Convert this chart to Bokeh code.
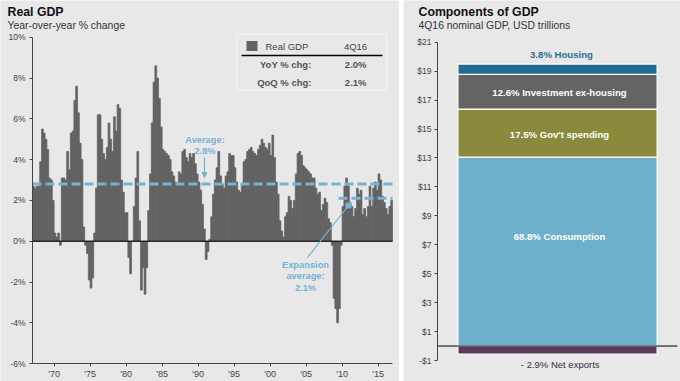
from bokeh.plotting import figure
from bokeh.models import Range1d, FixedTicker, Label, Arrow, NormalHead, BoxAnnotation
from bokeh.layouts import row
from bokeh.embed import file_html
from bokeh.resources import INLINE

# ---------------- data ----------------
START_YEAR = 1967
gdp_yoy = [
    2.7, 2.6, 2.7, 2.7, 3.9, 5.5, 5.3, 5.0,      # 1967-68
    4.5, 3.1, 3.0, 2.0, 0.4, 0.2, 0.4, -0.2,     # 1969-70
    3.1, 3.1, 3.0, 4.4, 3.5, 5.3, 5.4, 6.9,      # 1971-72
    7.6, 6.3, 4.8, 4.0, 0.7, -0.2, -0.6, -1.9,   # 1973-74
    -2.3, -1.8, 0.4, 2.6, 6.2, 6.2, 5.0, 4.3,    # 1975-76
    4.0, 4.6, 5.8, 5.0, 4.4, 6.1, 5.4, 6.7,      # 1977-78
    6.5, 3.0, 2.4, 1.4, 1.4, -0.8, -1.6, 0.0,    # 1979-80
    1.7, 3.1, 4.4, 1.0, -2.4, -1.3, -2.6, -1.3,  # 1981-82
    1.5, 3.3, 5.8, 7.8, 8.6, 8.0, 7.0, 5.6,      # 1983-84
    4.5, 4.4, 4.3, 4.2, 4.0, 3.4, 3.2, 2.9,      # 1985-86
    2.8, 3.4, 3.3, 4.4, 4.5, 4.1, 3.9, 4.3,      # 1987-88
    4.1, 4.3, 3.8, 3.3, 2.9, 2.5, 1.8, 0.6,      # 1989-90
    -0.9, -0.5, 0.1, 1.2, 2.3, 3.0, 3.6, 4.4,    # 1991-92
    3.2, 2.8, 2.6, 3.2, 3.4, 4.3, 4.2, 4.2,      # 1993-94
    3.6, 2.9, 2.5, 2.4, 2.8, 3.9, 4.0, 4.4,      # 1995-96
    4.5, 4.6, 4.4, 4.3, 4.2, 4.5, 4.7, 5.0,      # 1997-98
    4.8, 4.6, 4.5, 4.8, 4.2, 5.2, 4.1, 2.9,      # 1999-00
    2.3, 1.0, 0.5, 0.2, 1.2, 1.4, 2.2, 2.0,      # 2001-02
    1.6, 2.0, 3.3, 4.3, 4.4, 4.2, 3.7, 3.6,      # 2003-04
    3.5, 3.4, 3.3, 3.1, 3.1, 2.6, 2.3, 2.4,      # 2005-06
    1.5, 1.8, 2.1, 1.9, 1.1, 0.9, -0.2, -2.8,    # 2007-08
    -3.3, -4.0, -3.3, -0.2, 1.7, 2.7, 3.1, 2.7,  # 2009-10
    1.9, 1.7, 1.2, 1.6, 2.6, 2.3, 2.5, 1.3,      # 2011-12
    1.6, 1.2, 1.7, 2.7, 1.7, 2.6, 2.9, 2.5,      # 2013-14
    3.3, 3.0, 2.2, 1.9, 1.6, 1.3, 1.7, 2.0,      # 2015-16
]
AVG_ALL = 2.8
EXP_AVG = 2.1
EXP_START = 2009.5
latest_q = "4Q16"
latest_yoy = 2.0
latest_qoq = 2.1
year_ticks = [1970, 1975, 1980, 1985, 1990, 1995, 2000, 2005, 2010, 2015]
year_labels = ["'70", "'75", "'80", "'85", "'90", "'95", "'00", "'05", "'10", "'15"]
pct_ticks = [-6, -4, -2, 0, 2, 4, 6, 8, 10]

comp_names = ["Consumption", "Gov't spending", "Investment ex-housing", "Housing", "Net exports"]
comp_pct = [68.8, 17.5, 12.6, 3.8, -2.9]
comp_usd = [13.05, 3.33, 2.39, 0.72, -0.55]
comp_colors = ["#6eb0cc", "#898a3c", "#646464", "#236b92", "#5b3a58"]
usd_ticks = [-1, 1, 3, 5, 7, 9, 11, 13, 15, 17, 19, 21]
usd_labels = ["-$1", "$1", "$3", "$5", "$7", "$9", "$11", "$13", "$15", "$17", "$19", "$21"]

# ---------------- style ----------------
BG = "#e8e8e8"
BAR = "#626262"
AVGC = "#74b3d3"
FONT = "Liberation Sans"
AXC = "#444444"

n_q = len(gdp_yoy)
quarters = [START_YEAR + (i + 0.5) / 4 for i in range(n_q)]
x_end = START_YEAR + n_q / 4
y_lo, y_hi = pct_ticks[0], pct_ticks[-1]


def style_axis(ax, size="8.5px"):
    ax.axis_line_color = AXC
    ax.major_tick_line_color = AXC
    ax.minor_tick_line_color = None
    ax.major_tick_out = 3
    ax.major_tick_in = 0
    ax.major_label_text_font = FONT
    ax.major_label_text_font_size = size
    ax.major_label_text_color = AXC


def ranges(W, H, left, right, top, bottom, x0, x1, y0, y1):
    """extend data ranges so that the plot area [left..right]x[top..bottom] (px) maps to x0..x1, y0..y1"""
    kx = (x1 - x0) / (right - left)
    ky = (y1 - y0) / (bottom - top)
    return (Range1d(x0 - left * kx, x1 + (W - right) * kx),
            Range1d(y0 - (H - bottom) * ky, y1 + top * ky))


# ---------------- left panel ----------------
W1, H1 = 399, 381
xr1, yr1 = ranges(W1, H1, 32, 392, 36.7, 363.1, START_YEAR, x_end, y_lo, y_hi)
p1 = figure(width=W1, height=H1, x_range=xr1, y_range=yr1,
            output_backend="svg", toolbar_location=None,
            min_border_left=0, min_border_right=0, min_border_top=0, min_border_bottom=0,
            background_fill_color=BG, border_fill_color=BG, outline_line_color=None)
p1.grid.visible = False

p1.vbar(x=quarters, top=gdp_yoy, bottom=0, width=0.255, fill_color=BAR, line_color=BAR, line_width=0.7)
p1.line([START_YEAR, x_end], [0, 0], line_color="black", line_width=1)

p1.line([START_YEAR, x_end], [AVG_ALL, AVG_ALL], line_color=AVGC, line_width=3, line_dash="9 4")
p1.line([EXP_START, x_end], [EXP_AVG, EXP_AVG], line_color=AVGC, line_width=3, line_dash="9 4")

ya = p1.yaxis[0]
ya.ticker = FixedTicker(ticks=pct_ticks)
ya.major_label_overrides = {t: f"{t}%" for t in pct_ticks}
ya.fixed_location = START_YEAR
ya.bounds = (y_lo, y_hi)
style_axis(ya)
ya.major_label_standoff = 4
xa = p1.xaxis[0]
xa.ticker = FixedTicker(ticks=year_ticks)
xa.major_label_overrides = dict(zip(year_ticks, year_labels))
xa.fixed_location = y_lo
xa.bounds = (START_YEAR, x_end)
style_axis(xa, "9px")
xa.major_label_standoff = 2


def lx(px):
    return xr1.start + px * (xr1.end - xr1.start) / W1


def ly(py):
    return yr1.end - py * (yr1.end - yr1.start) / H1


def lab(p, x, y, text, size, color="#222222", bold=False, align="left"):
    p.add_layout(Label(x=x, y=y, text=text, text_font=FONT, text_font_size=size,
                       text_color=color, text_font_style="bold" if bold else "normal",
                       text_align=align, text_baseline="middle"))


lab(p1, lx(7), ly(11), "Real GDP", "12.3px", "#111111", True)
lab(p1, lx(7), ly(25), "Year-over-year % change", "10.4px", "#333333")

# info box
p1.add_layout(BoxAnnotation(left=lx(236), right=lx(386), top=ly(33.5), bottom=ly(89.5),
                            fill_color=None, line_color="white", line_width=2.5))
p1.add_layout(BoxAnnotation(left=lx(246), right=lx(257), top=ly(40.5), bottom=ly(50.5),
                            fill_color=BAR, fill_alpha=1, line_color=None))
p1.line([lx(241), lx(382)], [ly(55), ly(55)], line_color="black", line_width=1.3)
lab(p1, lx(265), ly(45.5), "Real GDP", "9.5px", "#444444")
lab(p1, lx(355), ly(45.5), latest_q, "9.5px", "#444444", align="center")
lab(p1, lx(311), ly(64), "YoY % chg:", "9.5px", "#555555", True, "right")
lab(p1, lx(366), ly(64), f"{latest_yoy:.1f}%", "9.5px", "#555555", True, "right")
lab(p1, lx(311), ly(82), "QoQ % chg:", "9.5px", "#555555", True, "right")
lab(p1, lx(366), ly(82), f"{latest_qoq:.1f}%", "9.5px", "#555555", True, "right")

# average annotation
lab(p1, lx(204.5), ly(139.5), "Average:", "9.3px", AVGC, True, "center")
lab(p1, lx(204.5), ly(150.5), f"{AVG_ALL:.1f}%", "9.3px", AVGC, True, "center")
p1.add_layout(Arrow(end=NormalHead(size=5, fill_color=AVGC, line_color=AVGC),
                    x_start=lx(204), y_start=ly(157), x_end=lx(204), y_end=ly(177),
                    line_color=AVGC, line_width=1.3))

# expansion annotation
p1.line([lx(307), lx(348)], [ly(257), ly(205)], line_color=AVGC, line_width=1.2)
p1.scatter([lx(348)], [ly(205)], marker="square", size=5, color=AVGC)
lab(p1, lx(305), ly(264), "Expansion", "9.3px", AVGC, True, "center")
lab(p1, lx(305), ly(275.5), "average:", "9.3px", AVGC, True, "center")
lab(p1, lx(305), ly(287), f"{EXP_AVG:.1f}%", "9.3px", AVGC, True, "center")

# ---------------- right panel ----------------
W2, H2 = 277, 381
xr2, yr2 = ranges(W2, H2, 34, 274, 41.7, 360, 0, 1, usd_ticks[0], usd_ticks[-1])
p2 = figure(width=W2, height=H2, x_range=xr2, y_range=yr2,
            output_backend="svg", toolbar_location=None,
            min_border_left=0, min_border_right=0, min_border_top=0, min_border_bottom=0,
            background_fill_color=BG, border_fill_color=BG, outline_line_color=None)
p2.grid.visible = False
p2.xaxis.visible = False

bottoms, tops = [], []
pos_acc = 0.0
neg_acc = 0.0
for v in comp_usd:
    if v >= 0:
        bottoms.append(pos_acc)
        pos_acc += v
        tops.append(pos_acc)
    else:
        bottoms.append(neg_acc)
        neg_acc += v
        tops.append(neg_acc)

p2.vbar(x=[0.5] * len(comp_usd), width=0.83, bottom=bottoms, top=tops,
        fill_color=comp_colors, line_color="white", line_width=1.2)
p2.line([0, 1], [0, 0], line_color="black", line_width=1)

ya2 = p2.yaxis[0]
ya2.ticker = FixedTicker(ticks=usd_ticks)
ya2.major_label_overrides = dict(zip(usd_ticks, usd_labels))
ya2.fixed_location = 0
ya2.bounds = (usd_ticks[0], usd_ticks[-1])
style_axis(ya2)
ya2.major_label_standoff = 3


def rx(px):
    # px in reference page coordinates (right panel starts at 403)
    return xr2.start + (px - 403) * (xr2.end - xr2.start) / W2


def ry(py):
    return yr2.end - py * (yr2.end - yr2.start) / H2


lab(p2, rx(418), ry(11), "Components of GDP", "12.3px", "#111111", True)
lab(p2, rx(418), ry(25), "4Q16 nominal GDP, USD trillions", "10.4px", "#333333")

label_pos = {"Housing": ry(54), "Investment ex-housing": ry(91.5), "Gov't spending": ry(133.5),
             "Consumption": ry(236), "Net exports": ry(364)}
for name, pct in zip(comp_names, comp_pct):
    if name == "Housing":
        lab(p2, rx(561), label_pos[name], f"{pct}% {name}", "9.6px", "#2a6d9c", True, "center")
    elif name == "Net exports":
        lab(p2, rx(561), label_pos[name], f"- {abs(pct)}%  {name}", "9.5px", "#3d2b40", False, "center")
    else:
        lab(p2, rx(559), label_pos[name], f"{pct}% {name}", "9.6px", "white", True, "center")

layout = row(p1, p2, spacing=4)
open("out.html", "w").write(file_html(layout, INLINE))
